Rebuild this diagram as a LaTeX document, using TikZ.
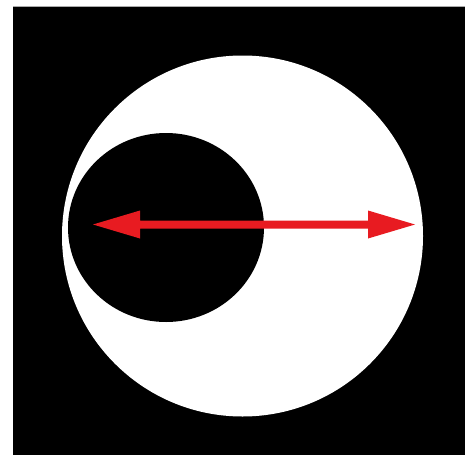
\documentclass[tikz,border=0pt]{standalone}
\definecolor{arrowred}{RGB}{232,27,33}
\definecolor{topgrey}{RGB}{170,170,170}
\begin{document}
\begin{tikzpicture}[x=1pt,y=-1pt]
\useasboundingbox (0,0) rectangle (465,455);
\fill[white] (0,0) rectangle (465,455);
\fill[topgrey] (13,5.5) rectangle (465,7);
\fill[black] (13,7) rectangle (465,455);
\fill[white] (242.5,236) circle (180.5);
\fill[black] (166,227.5) ellipse [x radius=98, y radius=94.5];
\fill[arrowred] (93,224.5) -- (140,210.5) -- (140,220.5) -- (368,220.5) -- (368,210.5)
  -- (415,224.5) -- (368,238.5) -- (368,228.5) -- (140,228.5) -- (140,238.5) -- cycle;
\end{tikzpicture}
\end{document}
